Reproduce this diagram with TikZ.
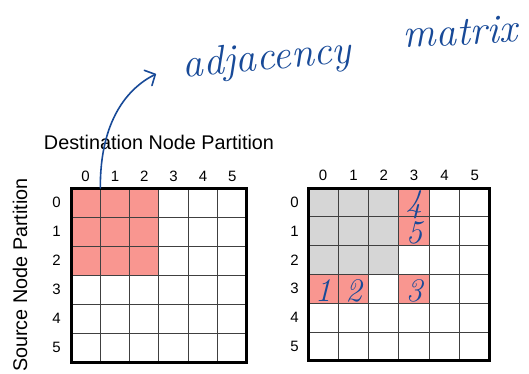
\documentclass[tikz,border=0pt]{standalone}
\usepackage{fontspec}
\setsansfont{Liberation Sans}
\usetikzlibrary{positioning, arrows.meta}

\definecolor{hitred}{RGB}{249,150,144}
\definecolor{donegrey}{RGB}{214,214,214}
\definecolor{penblue}{RGB}{24,74,152}

\begin{document}
\begin{tikzpicture}[
    x=1pt, y=-1pt,
    lcell/.style={
        draw=black!75,
        line width=1pt,
        inner sep=0pt,
        outer sep=0pt,
        minimum width=29.33pt,
        minimum height=29pt
    },
    rcell/.style={
        lcell,
        minimum width=30.33pt,
        minimum height=28.8pt
    },
    border/.style={
        line width=3pt
    },
    digit/.style={
        font=\sffamily\fontsize{15}{18}\selectfont,
        inner sep=0pt
    },
    title/.style={
        font=\sffamily\fontsize{19.8}{24}\selectfont,
        inner sep=0pt
    },
    pen/.style={
        text=penblue,
        font=\rmfamily\itshape\fontsize{41}{46}\selectfont,
        inner sep=0pt
    },
    pendigit/.style={
        text=penblue,
        font=\rmfamily\itshape\fontsize{33}{36}\selectfont,
        inner sep=0pt,
        yshift=-2pt
    },
    penarrow/.style={
        draw=penblue,
        line width=1.6pt,
        line cap=round,
        -{Straight Barb[length=8pt,width=17pt,round]}
    }
]
\useasboundingbox (0,0) rectangle (529,374);

% left grid: whole 3x3 block hit
\foreach \r in {0,...,5}
  \foreach \c in {0,...,5} {
    \def\tint{white}
    \ifnum\r<3 \ifnum\c<3 \def\tint{hitred}\fi\fi
    \node[lcell, fill=\tint] (L\r\c) at ({71+29.33*(\c+0.5)}, {188+29*(\r+0.5)}) {};
  }
\draw[border] (L00.north west) rectangle (L55.south east);

% right grid: done block and single hits
\foreach \r in {0,...,5}
  \foreach \c in {0,...,5} {
    \def\tint{white}
    \ifnum\r<3 \ifnum\c<3 \def\tint{donegrey}\fi\fi
    \ifnum\c=3 \ifnum\r<2 \def\tint{hitred}\fi\fi
    \ifnum\r=3 \ifnum\c<4 \ifnum\c=2 \else\def\tint{hitred}\fi\fi\fi
    \node[rcell, fill=\tint] (R\r\c) at ({308+30.33*(\c+0.5)}, {188+28.8*(\r+0.5)}) {};
  }
\draw[border] (R00.north west) rectangle (R55.south east);

% partition numbers
\foreach \i in {0,...,5} {
    \node[digit, above=6pt of L0\i] (Lc\i) {\i};
    \node[digit, left=10pt of L\i0] (Lr\i) {\i};
    \node[digit, above=7pt of R0\i] (Rc\i) {\i};
    \node[digit, left=9pt of R\i0] (Rr\i) {\i};
}

\node[title] (dest) at (159,142) {Destination Node Partition};
\node[title, rotate=90] (src) at (20,275) {Source Node Partition};

% handwritten notes
\node[pen, anchor=base, rotate=5] (adj) at (268,70) {adjacency};
\node[pen, anchor=base, rotate=3] (mat) at (461,45) {matrix};
\coordinate (tip) at (156,74);
\draw[penarrow] (L00.north east) .. controls (100,120) and (128,88) .. (tip);

\node[pendigit] (n1) at (R30) {1};
\node[pendigit] (n2) at (R31) {2};
\node[pendigit] (n3) at (R33) {3};
\node[pendigit] (n4) at (R03) {4};
\node[pendigit] (n5) at (R13) {5};

\end{tikzpicture}
\end{document}
